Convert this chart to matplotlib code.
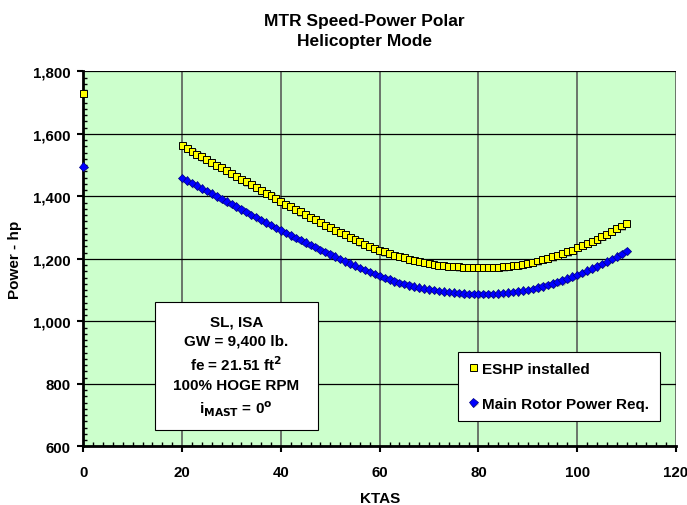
import matplotlib.pyplot as plt
import matplotlib.patheffects as pe
from matplotlib.patches import Rectangle
from matplotlib.ticker import MultipleLocator, FuncFormatter

plt.rcParams['font.family'] = ['Liberation Sans', 'DejaVu Sans']
plt.rcParams['font.weight'] = 'bold'
plt.rcParams['mathtext.default'] = 'bf'

# hover points (0 kt)
hover_ktas = [0]
hover_eshp = [1728]
hover_mrp = [1495]

# forward flight, 20 to 110 kt in 1 kt steps
ktas = list(range(20, 111))
eshp = [1562, 1553, 1544, 1535, 1526, 1517, 1508, 1499, 1491, 1482,
        1473, 1464, 1455, 1446, 1437, 1428, 1419, 1410, 1402, 1393,
        1384, 1375, 1367, 1358, 1350, 1341, 1333, 1325, 1316, 1308,
        1300, 1292, 1284, 1277, 1269, 1261, 1254, 1247, 1240, 1234,
        1228, 1222, 1217, 1212, 1207, 1203, 1199, 1195, 1191, 1188,
        1185, 1182, 1180, 1178, 1176, 1175, 1174, 1173, 1172, 1171,
        1171, 1171, 1172, 1172, 1173, 1174, 1176, 1178, 1180, 1183,
        1186, 1189, 1193, 1197, 1201, 1206, 1211, 1217, 1222, 1228,
        1235, 1242, 1249, 1256, 1263, 1271, 1279, 1287, 1296, 1305,
        1314]
mrp = [1458, 1450, 1442, 1434, 1425, 1417, 1409, 1400, 1392, 1383,
       1375, 1367, 1358, 1350, 1341, 1333, 1325, 1316, 1308, 1299,
       1291, 1283, 1275, 1267, 1260, 1252, 1244, 1237, 1229, 1222,
       1214, 1207, 1199, 1192, 1185, 1178, 1171, 1164, 1157, 1151,
       1145, 1139, 1134, 1128, 1123, 1119, 1115, 1111, 1108, 1105,
       1102, 1100, 1097, 1095, 1093, 1092, 1090, 1089, 1088, 1088,
       1087, 1087, 1088, 1088, 1089, 1090, 1092, 1094, 1096, 1098,
       1101, 1104, 1108, 1112, 1116, 1121, 1126, 1131, 1137, 1143,
       1149, 1155, 1162, 1169, 1176, 1183, 1191, 1199, 1207, 1216,
       1225]

conditions = ['SL, ISA', 'GW = 9,400 lb.', 'fe = 21.51 ft$^{2}$',
              '100% HOGE RPM', 'i$_{MAST}$ = 0$^{o}$']

fig = plt.figure(figsize=(6.87, 5.06), dpi=100)
ax = fig.add_axes([0.1213, 0.116, 0.8627, 0.741])
ax.set_facecolor('#CCFFCC')

shadow = [pe.SimplePatchShadow(offset=(0.8, -0.8), shadow_rgbFace='#666666', alpha=0.45),
          pe.Normal()]
ax.plot(hover_ktas + ktas, hover_eshp + eshp, ls='none', marker='s', ms=5,
        mfc='#FFFF00', mec='black', mew=0.7, label='ESHP installed',
        zorder=4, clip_on=False, path_effects=shadow)
ax.plot(hover_ktas + ktas, hover_mrp + mrp, ls='none', marker='D', ms=4.3,
        mfc='#0000FF', mec='#000080', mew=0.5, label='Main Rotor Power Req.',
        zorder=4, clip_on=False, path_effects=shadow)

ax.set_xlim(0, 120)
ax.set_ylim(600, 1800)
ax.xaxis.set_major_locator(MultipleLocator(20))
ax.xaxis.set_minor_locator(MultipleLocator(2))
ax.yaxis.set_major_locator(MultipleLocator(200))
ax.yaxis.set_minor_locator(MultipleLocator(20))
ax.yaxis.set_major_formatter(FuncFormatter(lambda v, p: f'{v:,.0f}'))

ax.grid(True, which='major', axis='x', color='#505050', lw=1.1)
ax.grid(True, which='major', axis='y', color='black', lw=0.9)
ax.set_axisbelow(True)

for s in ['top', 'right']:
    ax.spines[s].set_visible(False)
for s in ['left', 'bottom']:
    ax.spines[s].set_linewidth(2)
ax.tick_params(which='major', direction='out', length=4, width=1.5, labelsize=10.8)
ax.tick_params(which='minor', direction='in', length=3, width=1)
ax.tick_params(axis='x', which='major', pad=9.5)
ax.tick_params(axis='y', which='major', pad=5)

ax.set_xlabel('KTAS', fontsize=11, fontweight='bold', va='center')
ax.xaxis.set_label_coords(0.5, -0.138)
ax.set_ylabel('Power - hp', fontsize=11, fontweight='bold', va='center')
ax.yaxis.set_label_coords(-0.115, 0.5)

fig.text(0.531, 0.9377, 'MTR Speed-Power Polar\nHelicopter Mode', ha='center',
         va='center', fontsize=12.5, fontweight='bold', linespacing=1.42)

# test conditions box
ax.add_patch(Rectangle((0.1205, 0.0435), 0.275, 0.342, transform=ax.transAxes,
                       fc='white', ec='black', lw=0.8, zorder=5))
ax.text(0.258, 0.2144, '\n'.join(conditions), transform=ax.transAxes,
        ha='center', va='center', fontsize=11, fontweight='bold',
        linespacing=1.45, zorder=6)

leg = ax.legend(loc='lower right', bbox_to_anchor=(0.973, 0.0667), fancybox=False,
                edgecolor='black', framealpha=1, fontsize=11, handletextpad=0.3,
                handlelength=0.6, labelspacing=1.35, borderpad=0.69,
                borderaxespad=0)
leg.get_frame().set_linewidth(0.8)
leg.set_zorder(6)

fig.savefig('out.png', dpi=100)
